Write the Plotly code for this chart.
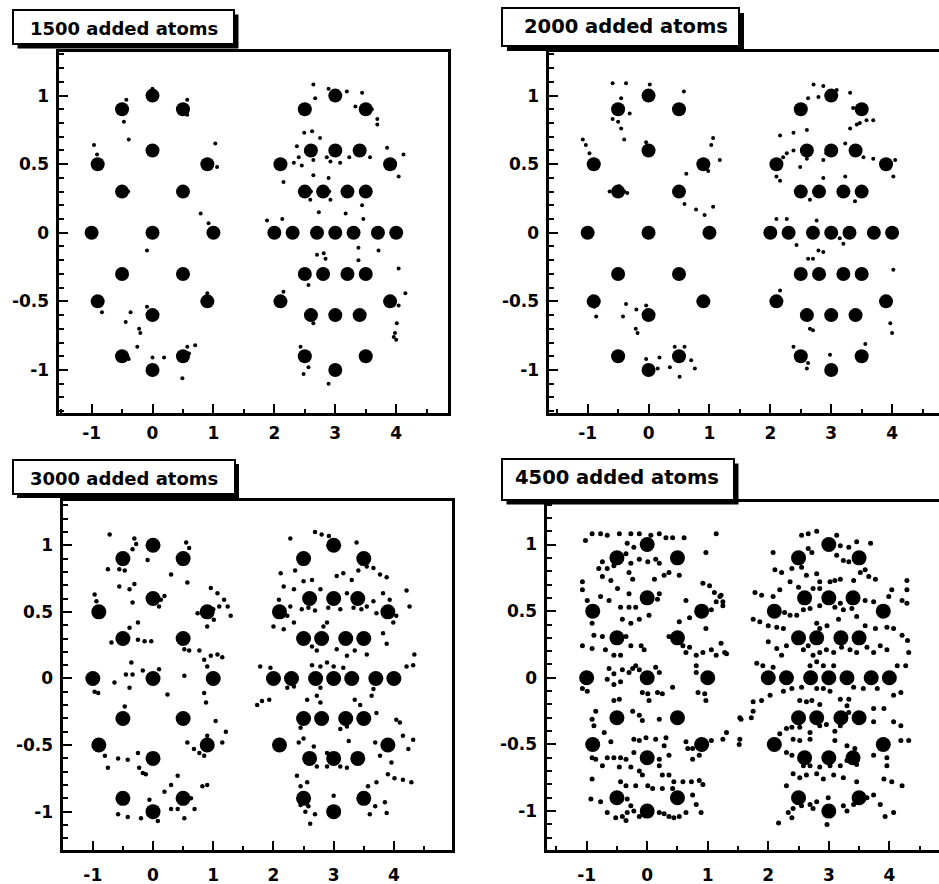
import plotly.graph_objects as go

W, H = 939, 884

# ---------------- data ----------------
TITLES = ["1500 added atoms", "2000 added atoms", "3000 added atoms", "4500 added atoms"]

ATOM_X = [0, -0.5, 0.5, 0, -0.9, 0.9, -0.5, 0.5, -1, 0, 1, -0.5, 0.5, -0.9, 0.9, 0, -0.5, 0.5, 0,
          3, 2.5, 3.5, 2.6, 3, 3.4, 2.1, 3.9, 2.5, 2.8, 3.2, 3.5, 2, 2.3, 2.7, 3, 3.3, 3.7, 4,
          2.5, 2.8, 3.2, 3.5, 2.1, 3.9, 2.6, 3, 3.4, 2.5, 3.5, 3]
ATOM_Y = [1, 0.9, 0.9, 0.6, 0.5, 0.5, 0.3, 0.3, 0, 0, 0, -0.3, -0.3, -0.5, -0.5, -0.6, -0.9, -0.9, -1,
          1, 0.9, 0.9, 0.6, 0.6, 0.6, 0.5, 0.5, 0.3, 0.3, 0.3, 0.3, 0, 0, 0, 0, 0, 0, 0,
          -0.3, -0.3, -0.3, -0.3, -0.5, -0.5, -0.6, -0.6, -0.6, -0.9, -0.9, -1]

X_TICKS = [-1, 0, 1, 2, 3, 4]
X_LABELS = ["-1", "0", "1", "2", "3", "4"]
Y_TICKS = [-1, -0.5, 0, 0.5, 1]
Y_LABELS = ["-1", "-0.5", "0", "0.5", "1"]

SPECKS_1500 = [(-0.96,0.64),(-0.91,0.57),(-0.43,0.97),(-0.47,0.81),(-0.39,0.68),(0.0,1.05),(0.57,0.97),
    (0.57,0.86),(1.03,0.65),(1.06,0.48),(0.79,0.14),(0.92,0.07),(-0.09,-0.13),(-0.83,-0.58),(-0.44,-0.65),
    (-0.36,-0.58),(-0.22,-0.70),(-0.2,-0.73),(-0.25,-0.83),(-0.09,-0.54),(-0.39,-0.92),(0.0,-0.91),
    (0.19,-0.91),(0.57,-0.83),(0.7,-0.82),(0.49,-1.06),(0.9,-0.44),(-0.4,0.3),(0.6,-0.88),(-0.41,-0.9),
    (2.64,1.08),(2.89,1.05),(3.19,1.03),(3.44,1.02),(2.67,0.98),(3.33,0.92),(3.69,0.83),(3.69,0.79),
    (2.62,0.74),(2.49,0.73),(2.75,0.69),(2.37,0.63),(2.4,0.55),(2.52,0.59),(2.64,0.53),(2.86,0.55),
    (2.92,0.52),(3.08,0.51),(3.23,0.55),(3.57,0.55),(3.85,0.62),(4.12,0.57),(4.04,0.41),(2.32,0.51),
    (2.45,0.49),(2.15,0.37),(2.64,0.42),(2.89,0.4),(2.59,0.24),(2.73,0.15),(2.92,0.24),(3.17,0.14),
    (3.44,0.2),(3.46,0.1),(1.88,0.09),(2.13,0.1),(2.7,-0.16),(2.81,-0.15),(2.84,-0.19),(3.38,-0.2),
    (3.71,-0.13),(3.38,-0.11),(2.56,-0.38),(4.04,-0.26),(4.15,-0.44),(4.04,-0.53),(2.64,-0.66),
    (4.01,-0.66),(3.98,-0.73),(3.96,-0.76),(2.43,-0.83),(2.56,-0.98),(2.48,-1.03),(2.89,-1.1),
    (2.15,-0.43),(2.9,0.3),(2.6,0.3),(3.6,0.9),(4.0,-0.78)]

SPECKS_2000 = [(-0.59,1.09),(-0.37,1.09),(-0.45,0.98),(0.58,1.03),(0.02,1.08),(-0.59,0.83),(-0.5,0.81),
    (-0.45,0.76),(-0.31,0.87),(-0.4,0.68),(-1.08,0.68),(-1.03,0.64),(-0.97,0.58),(-0.04,0.66),(1.06,0.69),
    (1.03,0.64),(1.17,0.53),(0.98,0.45),(0.62,0.43),(-0.64,0.3),(-0.55,0.32),(-0.4,0.3),(-0.35,0.29),
    (-0.48,0.34),(0.59,0.21),(0.78,0.17),(0.92,0.13),(1.06,0.19),(-0.37,-0.52),(-0.42,-0.61),(-0.2,-0.56),
    (-0.04,-0.53),(-0.21,-0.7),(-0.18,-0.73),(-0.89,-0.54),(-0.86,-0.61),(-0.04,-0.92),(0.15,-0.99),
    (0.35,-0.98),(0.43,-0.83),(0.59,-0.83),(0.7,-0.93),(0.76,-0.99),(0.51,-1.05),(0.18,-0.91),
    (2.71,1.08),(2.87,1.07),(3.09,1.04),(3.31,1.02),(2.79,0.99),(2.62,0.98),(3.36,0.91),(3.58,0.82),
    (3.69,0.82),(3.47,0.8),(3.31,0.76),(3.42,0.79),(2.38,0.73),(2.6,0.75),(2.16,0.71),(2.38,0.6),
    (2.27,0.58),(2.21,0.55),(2.49,0.48),(2.6,0.54),(2.87,0.53),(2.92,0.58),(3.23,0.65),(3.53,0.55),
    (3.69,0.54),(4.05,0.53),(4.02,0.41),(2.16,0.38),(2.1,0.41),(2.87,0.4),(3.23,0.41),(2.65,0.24),
    (3.39,0.23),(2.1,0.1),(2.27,0.1),(2.76,0.09),(3.14,-0.04),(3.2,-0.08),(2.43,-0.09),(2.79,-0.13),
    (2.87,-0.14),(2.62,-0.19),(2.7,-0.19),(4.02,-0.27),(3.97,-0.66),(4.0,-0.73),(2.65,-0.7),(2.7,-0.71),
    (2.6,-0.99),(2.62,-0.95),(2.98,-0.89),(3.56,-0.81),(2.38,-0.83),(2.16,-0.42)]

SPECKS_3000 = [(-0.72,1.08),(-0.31,1.05),(-0.28,1.01),(-0.34,0.97),(0.55,1.02),(0.6,0.98),(-0.09,0.89),
    (-0.75,0.82),(-0.56,0.82),(-0.47,0.81),(0.3,0.78),(-0.56,0.69),(-0.39,0.67),(-0.31,0.71),(0.57,0.72),
    (-0.97,0.63),(-0.94,0.58),(-0.34,0.57),(0.13,0.59),(0.19,0.62),(0.1,0.54),(0.96,0.68),(1.07,0.64),
    (1.18,0.59),(1.24,0.54),(1.29,0.47),(1.1,0.54),(1.01,0.44),(0.9,0.39),(0.74,0.49),(1.0,0.52),
    (-0.69,0.27),(-0.25,0.29),(-0.14,0.28),(-0.03,0.28),(-0.39,0.38),(-0.25,0.42),(0.52,0.22),(0.6,0.21),
    (0.77,0.21),(0.85,0.14),(0.96,0.17),(1.07,0.18),(1.15,0.16),(0.9,0.09),(-0.36,0.12),(-0.45,0.03),
    (-0.34,0.03),(-0.39,-0.07),(-0.64,-0.03),(0.1,0.07),(-0.17,0.06),(-0.97,-0.1),(-0.91,-0.11),
    (0.24,-0.12),(0.85,-0.11),(0.88,-0.18),(0.52,0.02),(-0.47,-0.21),(1.04,-0.32),(1.21,-0.4),
    (0.57,-0.48),(0.68,-0.53),(0.77,-0.56),(0.85,-0.58),(1.15,-0.48),(0.9,-0.43),(-0.25,-0.56),
    (-0.58,-0.6),(-0.42,-0.61),(-0.8,-0.58),(-0.75,-0.67),(-0.23,-0.67),(-0.17,-0.71),(-0.12,-0.72),
    (0.41,-0.73),(0.3,-0.8),(0.82,-0.81),(0.9,-0.8),(0.63,-0.9),(0.69,-0.98),(0.3,-0.98),(0.41,-0.98),
    (-0.58,-1.02),(-0.42,-1.04),(-0.2,-1.05),(0.08,-1.07),(0.52,-1.05),(-0.06,-0.91),(0.19,-0.85),
    (2.28,1.05),(2.69,1.1),(2.8,1.08),(2.92,1.07),(3.38,1.02),(3.55,0.84),(3.66,0.83),(3.77,0.78),
    (3.88,0.76),(3.41,0.81),(2.12,0.79),(2.36,0.81),(2.5,0.73),(2.64,0.74),(3.05,0.77),(3.16,0.79),
    (3.3,0.74),(2.17,0.69),(2.34,0.67),(2.78,0.67),(3.22,0.64),(3.82,0.64),(3.93,0.59),(4.21,0.66),
    (4.26,0.54),(4.04,0.47),(3.99,0.42),(2.09,0.59),(2.28,0.54),(2.23,0.47),(2.47,0.52),(2.58,0.53),
    (2.69,0.51),(2.91,0.53),(3.11,0.52),(3.33,0.53),(3.46,0.52),(3.55,0.54),(3.66,0.58),(3.71,0.49),
    (2.0,0.39),(2.17,0.37),(2.34,0.42),(2.83,0.39),(2.89,0.42),(2.64,0.24),(2.72,0.21),(3.05,0.22),
    (3.22,0.17),(3.35,0.21),(3.55,0.18),(3.82,0.34),(3.88,0.26),(4.34,0.18),(2.64,0.1),(2.78,0.09),
    (2.89,0.12),(3.0,0.09),(3.16,0.08),(1.78,0.09),(1.95,0.08),(4.21,0.09),(4.32,0.1),(2.23,-0.07),
    (2.34,-0.06),(2.78,-0.07),(3.66,-0.08),(1.81,-0.17),(1.73,-0.2),(1.93,-0.16),(2.56,-0.16),
    (2.72,-0.13),(2.78,-0.18),(3.35,-0.16),(3.44,-0.2),(3.63,-0.13),(3.71,-0.26),(3.11,-0.38),
    (3.22,-0.36),(4.04,-0.31),(4.1,-0.33),(2.45,-0.37),(2.5,-0.45),(2.42,-0.48),(2.67,-0.51),
    (2.89,-0.56),(3.25,-0.47),(3.69,-0.48),(4.15,-0.43),(4.32,-0.46),(4.24,-0.53),(3.77,-0.58),
    (3.96,-0.63),(4.01,-0.75),(4.15,-0.76),(4.29,-0.78),(3.9,-0.72),(2.39,-0.73),(2.45,-0.81),
    (2.56,-0.78),(2.72,-0.66),(2.89,-0.66),(3.11,-0.66),(3.22,-0.67),(3.33,-0.62),(3.71,-0.78),
    (3.57,-0.81),(2.45,-0.95),(2.58,-0.96),(2.53,-1.0),(3.0,-0.88),(3.69,-0.96),(3.85,-0.93),
    (3.88,-1.01),(3.6,-1.02),(2.69,-1.02),(2.61,-1.09)]

SPECKS_4500 = [(-1.02,1.03),(-0.91,1.08),(-0.77,1.08),(-0.66,1.07),(-0.46,1.08),(-0.27,1.08),(-0.13,1.08),
    (0.06,1.07),(0.2,1.08),(0.31,1.05),(0.42,1.05),(0.61,1.05),(-0.33,1.01),(-0.22,0.98),(-0.35,0.93),
    (-0.74,0.87),(-0.8,0.82),(-0.66,0.82),(-0.55,0.84),(-0.27,0.86),(-0.13,0.89),(0.01,0.87),(0.14,0.89),
    (0.2,0.86),(0.97,0.94),(1.14,1.08),(0.28,0.77),(0.36,0.79),(0.53,0.77),(-0.74,0.76),(-0.6,0.73),
    (-0.3,0.79),(-0.24,0.74),(0.12,0.74),(-1.07,0.72),(-1.07,0.66),(-0.99,0.58),(-0.77,0.61),(-0.63,0.58),
    (-0.49,0.67),(-0.3,0.63),(-0.44,0.53),(-0.3,0.53),(-0.19,0.53),(0.17,0.59),(0.2,0.63),(0.03,0.47),
    (-0.13,0.44),(-0.27,0.41),(-0.41,0.44),(-0.91,0.41),(0.64,0.58),(0.7,0.45),(0.53,0.42),(0.92,0.71),
    (1.03,0.69),(1.11,0.64),(1.2,0.61),(1.14,0.57),(1.25,0.54),(1.06,0.51),(0.97,0.37),(1.22,0.62),
    (1.25,0.57),(-0.88,0.32),(-0.74,0.31),(-0.35,0.31),(-0.27,0.24),(-0.1,0.24),(-0.05,0.21),
    (-1.07,0.24),(-0.91,0.22),(-0.69,0.21),(-0.55,0.17),(-0.44,0.17),(0.36,0.31),(0.59,0.24),(0.7,0.23),
    (0.64,0.19),(0.81,0.17),(0.92,0.19),(1.06,0.21),(1.14,0.17),(1.31,0.18),(1.22,0.26),(0.81,0.09),
    (-0.63,0.07),(-0.55,0.03),(-0.41,0.06),(-0.3,0.04),(-0.24,0.07),(-0.19,0.09),(-0.13,0.06),(0.14,0.08),
    (0.2,0.04),(-0.66,-0.01),(-0.55,-0.05),(-0.44,-0.03),(-1.07,-0.08),(-0.99,-0.1),(-0.08,-0.11),
    (0.01,-0.12),(0.17,-0.11),(0.25,-0.12),(0.42,-0.07),(-0.55,-0.17),(-0.46,-0.16),(0.03,-0.17),
    (0.84,-0.11),(0.95,-0.12),(0.97,-0.17),(0.81,0.04),(-0.85,-0.25),(-0.91,-0.31),(-0.88,-0.36),
    (-0.71,-0.41),(-0.13,-0.28),(-0.08,-0.32),(0.2,-0.31),(-0.24,-0.25),(-0.6,-0.48),(-0.22,-0.46),
    (-0.13,-0.47),(-0.02,-0.45),(0.14,-0.46),(0.31,-0.45),(0.28,-0.51),(0.64,-0.48),(0.67,-0.53),
    (0.75,-0.53),(1.06,-0.47),(1.25,-0.46),(-0.91,-0.6),(-0.85,-0.61),(-0.66,-0.6),(-0.55,-0.6),
    (-0.44,-0.6),(-0.35,-0.61),(-0.22,-0.56),(0.2,-0.61),(0.36,-0.58),(0.75,-0.61),(0.86,-0.58),
    (-0.74,-0.66),(-0.46,-0.67),(-0.27,-0.67),(-0.13,-0.7),(-0.08,-0.73),(0.2,-0.66),(0.25,-0.73),
    (0.36,-0.73),(0.44,-0.78),(0.59,-0.78),(0.73,-0.78),(0.86,-0.77),(0.92,-0.8),(-0.91,-0.76),
    (-0.44,-0.78),(-0.35,-0.81),(-0.19,-0.81),(0.01,-0.81),(0.09,-0.83),(0.25,-0.83),(0.42,-0.83),
    (-0.93,-0.91),(-0.77,-0.93),(-0.33,-0.91),(-0.27,-0.96),(-0.22,-1.0),(0.75,-0.88),(0.81,-0.95),
    (-0.66,-1.01),(-0.52,-1.05),(-0.41,-1.04),(-0.33,-1.01),(-0.13,-1.04),(0.06,-1.02),(0.2,-1.01),
    (0.28,-1.02),(0.36,-1.04),(0.44,-1.05),(0.53,-1.04),(0.64,-1.01),(0.89,-1.01),(-0.35,-1.07),
    (1.53,-0.3),(1.52,-0.5),(1.28,0.19),(1.31,-0.41),(1.55,-0.31),(1.53,-0.46),
    (2.55,1.07),(2.66,1.08),(2.8,1.1),(3.13,1.07),(3.19,0.99),(3.33,0.98),(3.46,1.02),(3.69,1.01),
    (2.08,0.94),(2.66,0.97),(2.72,0.94),(3.13,0.92),(3.24,0.88),(3.33,0.87),(2.11,0.81),(2.22,0.79),
    (2.39,0.82),(2.55,0.83),(2.63,0.77),(2.8,0.78),(2.85,0.72),(3.02,0.72),(3.1,0.73),(3.19,0.74),
    (3.41,0.73),(3.52,0.79),(3.6,0.81),(3.66,0.76),(3.77,0.74),(2.36,0.72),(2.5,0.68),(2.74,0.67),
    (2.85,0.67),(2.19,0.66),(1.78,0.64),(1.89,0.62),(2.08,0.61),(4.04,0.66),(4.29,0.66),(4.29,0.73),
    (4.21,0.58),(4.29,0.56),(3.99,0.61),(3.74,0.57),(3.6,0.58),(2.27,0.49),(2.36,0.47),(2.47,0.47),
    (2.58,0.51),(2.69,0.52),(2.85,0.54),(3.1,0.53),(3.19,0.56),(3.24,0.51),(3.38,0.52),(3.46,0.46),
    (1.75,0.44),(1.86,0.42),(2.0,0.39),(2.14,0.38),(2.25,0.37),(2.8,0.41),(2.85,0.37),(2.97,0.39),
    (3.16,0.44),(3.6,0.39),(3.77,0.37),(3.96,0.38),(4.07,0.37),(4.21,0.32),(4.3,0.28),(4.32,0.19),
    (2.0,0.27),(2.14,0.22),(2.22,0.17),(2.3,0.24),(2.58,0.21),(2.66,0.24),(2.74,0.17),(2.85,0.19),
    (2.96,0.21),(3.08,0.19),(3.21,0.23),(3.35,0.21),(3.46,0.19),(3.63,0.23),(3.74,0.19),(3.85,0.24),
    (3.96,0.21),(4.13,0.09),(4.27,0.09),(1.81,0.11),(1.91,0.09),(2.08,0.08),(2.69,0.09),(2.8,0.12),
    (2.91,0.09),(3.08,0.09),(2.25,-0.1),(2.39,-0.08),(2.55,-0.07),(2.8,-0.08),(2.91,-0.08),(3.02,-0.1),
    (3.41,-0.07),(3.57,-0.08),(3.8,-0.08),(4.07,-0.13),(4.19,-0.11),(1.75,-0.18),(1.89,-0.17),
    (2.03,-0.13),(2.52,-0.17),(2.63,-0.18),(2.72,-0.17),(2.85,-0.2),(3.19,-0.16),(3.33,-0.16),
    (3.3,-0.21),(3.33,-0.26),(3.74,-0.23),(3.91,-0.23),(1.75,-0.25),(1.72,-0.3),(2.3,-0.38),(2.39,-0.37),
    (2.52,-0.37),(2.69,-0.41),(2.85,-0.36),(2.96,-0.35),(3.1,-0.4),(3.19,-0.36),(3.74,-0.33),
    (4.07,-0.33),(4.19,-0.36),(2.19,-0.42),(2.41,-0.46),(2.52,-0.47),(2.69,-0.46),(3.1,-0.47),
    (3.3,-0.51),(3.43,-0.53),(4.19,-0.47),(4.32,-0.47),(2.3,-0.56),(2.39,-0.58),(2.58,-0.66),
    (2.69,-0.66),(2.85,-0.67),(3.02,-0.66),(3.19,-0.66),(3.3,-0.62),(3.46,-0.65),(3.74,-0.58),
    (3.85,-0.53),(3.96,-0.6),(3.96,-0.66),(2.41,-0.72),(2.52,-0.75),(2.63,-0.73),(2.8,-0.72),
    (2.91,-0.76),(3.08,-0.73),(3.24,-0.75),(3.46,-0.78),(3.91,-0.76),(4.04,-0.78),(4.21,-0.81),
    (2.3,-0.81),(2.33,-1.01),(2.41,-0.98),(2.55,-0.96),(2.69,-0.95),(2.74,-0.98),(2.39,-1.05),
    (2.8,-0.93),(2.99,-0.9),(3.24,-0.96),(3.3,-1.0),(3.41,-0.95),(3.63,-0.9),(3.74,-0.88),(3.85,-0.95),
    (3.93,-1.04),(4.07,-1.01),(2.97,-1.1),(2.17,-1.09)]

SPECKS = [SPECKS_1500, SPECKS_2000, SPECKS_3000, SPECKS_4500]

# ---------------- layout geometry (pixels) ----------------
PANELS = [
    dict(l=59.3, r=448.3, t=51.7, b=413.3, xr=[-1.53, 4.855], yr=[-1.316, 1.32], right_line=True,
         box=(13, 234, 10, 44), shadow=4.5, tx=124, ty=28.5, fs=18, atom=14, speck=4, xstand=2),
    dict(l=549.3, r=939, t=51.7, b=413.3, xr=[-1.63, 4.77], yr=[-1.316, 1.32], right_line=False,
         box=(502, 739, 8, 46), shadow=5, tx=626, ty=26.5, fs=19.5, atom=14, speck=4, xstand=2),
    dict(l=63.3, r=451.7, t=501.3, b=850.3, xr=[-1.49, 4.96], yr=[-1.29, 1.33], right_line=True,
         box=(13, 235, 460, 494), shadow=4, tx=124, ty=478.5, fs=18, atom=15, speck=4.5, xstand=7),
    dict(l=547.3, r=939, t=502, b=850.3, xr=[-1.65, 4.82], yr=[-1.294, 1.319], right_line=False,
         box=(502, 734, 459, 500), shadow=4.5, tx=617, ty=477, fs=19.5, atom=15, speck=5, xstand=7),
]

FONT = "DejaVu Sans"

def px(x):
    return x / W

def py(y):
    return 1 - y / H

fig = go.Figure()
shapes = []
annotations = []

for i, p in enumerate(PANELS):
    n = "" if i == 0 else str(i + 1)
    sx = [s[0] for s in SPECKS[i]]
    sy = [s[1] for s in SPECKS[i]]
    fig.add_trace(go.Scatter(x=sx, y=sy, mode="markers", xaxis="x" + n, yaxis="y" + n,
                             marker=dict(size=p["speck"], color="black", line=dict(width=0)),
                             showlegend=False, hoverinfo="skip"))
    fig.add_trace(go.Scatter(x=ATOM_X, y=ATOM_Y, mode="markers", xaxis="x" + n, yaxis="y" + n,
                             marker=dict(size=p["atom"], color="black", line=dict(width=0)),
                             showlegend=False))
    tickfont = dict(family=FONT, size=17, color="black", weight="bold")
    xa = dict(domain=[px(p["l"]), min(1.0, px(p["r"]))], range=p["xr"], anchor="y" + n,
              showgrid=False, zeroline=False, showline=True, linecolor="black", linewidth=2.6,
              mirror=True, ticks="inside", ticklen=10, tickwidth=2, tickcolor="black",
              tickmode="array", tickvals=X_TICKS, ticktext=X_LABELS, tickfont=tickfont,
              ticklabelstandoff=p["xstand"],
              minor=dict(tickmode="linear", tick0=0, dtick=0.5, ticks="inside", ticklen=5,
                         tickwidth=2, tickcolor="black", showgrid=False))
    ya = dict(domain=[py(p["b"]), py(p["t"])], range=p["yr"], anchor="x" + n,
              showgrid=False, zeroline=False, showline=True, linecolor="black", linewidth=2.6,
              mirror=p["right_line"], ticks="inside", ticklen=9, tickwidth=2, tickcolor="black",
              tickmode="array", tickvals=Y_TICKS, ticktext=Y_LABELS, tickfont=tickfont,
              ticklabelstandoff=4,
              minor=dict(tickmode="linear", tick0=0, dtick=0.1, ticks="inside", ticklen=5,
                         tickwidth=2, tickcolor="black", showgrid=False))
    fig.layout["xaxis" + n] = xa
    fig.layout["yaxis" + n] = ya

    x0, x1, y0, y1 = p["box"]
    d = p["shadow"]
    shapes.append(dict(type="rect", xref="paper", yref="paper", x0=px(x0 + d), x1=px(x1 + d),
                       y0=py(y0 + d), y1=py(y1 + d), fillcolor="black", line=dict(width=0),
                       layer="above"))
    shapes.append(dict(type="rect", xref="paper", yref="paper", x0=px(x0), x1=px(x1),
                       y0=py(y0), y1=py(y1), fillcolor="white",
                       line=dict(color="black", width=2), layer="above"))
    annotations.append(dict(text=TITLES[i], x=px(p["tx"]), y=py(p["ty"]), xref="paper",
                            yref="paper", xanchor="center", yanchor="middle", showarrow=False,
                            font=dict(family=FONT, size=p["fs"], color="black", weight="bold")))

fig.update_layout(width=W, height=H, margin=dict(l=0, r=0, t=0, b=0),
                  paper_bgcolor="white", plot_bgcolor="white",
                  shapes=shapes, annotations=annotations, showlegend=False)

fig.write_html("out.html")
